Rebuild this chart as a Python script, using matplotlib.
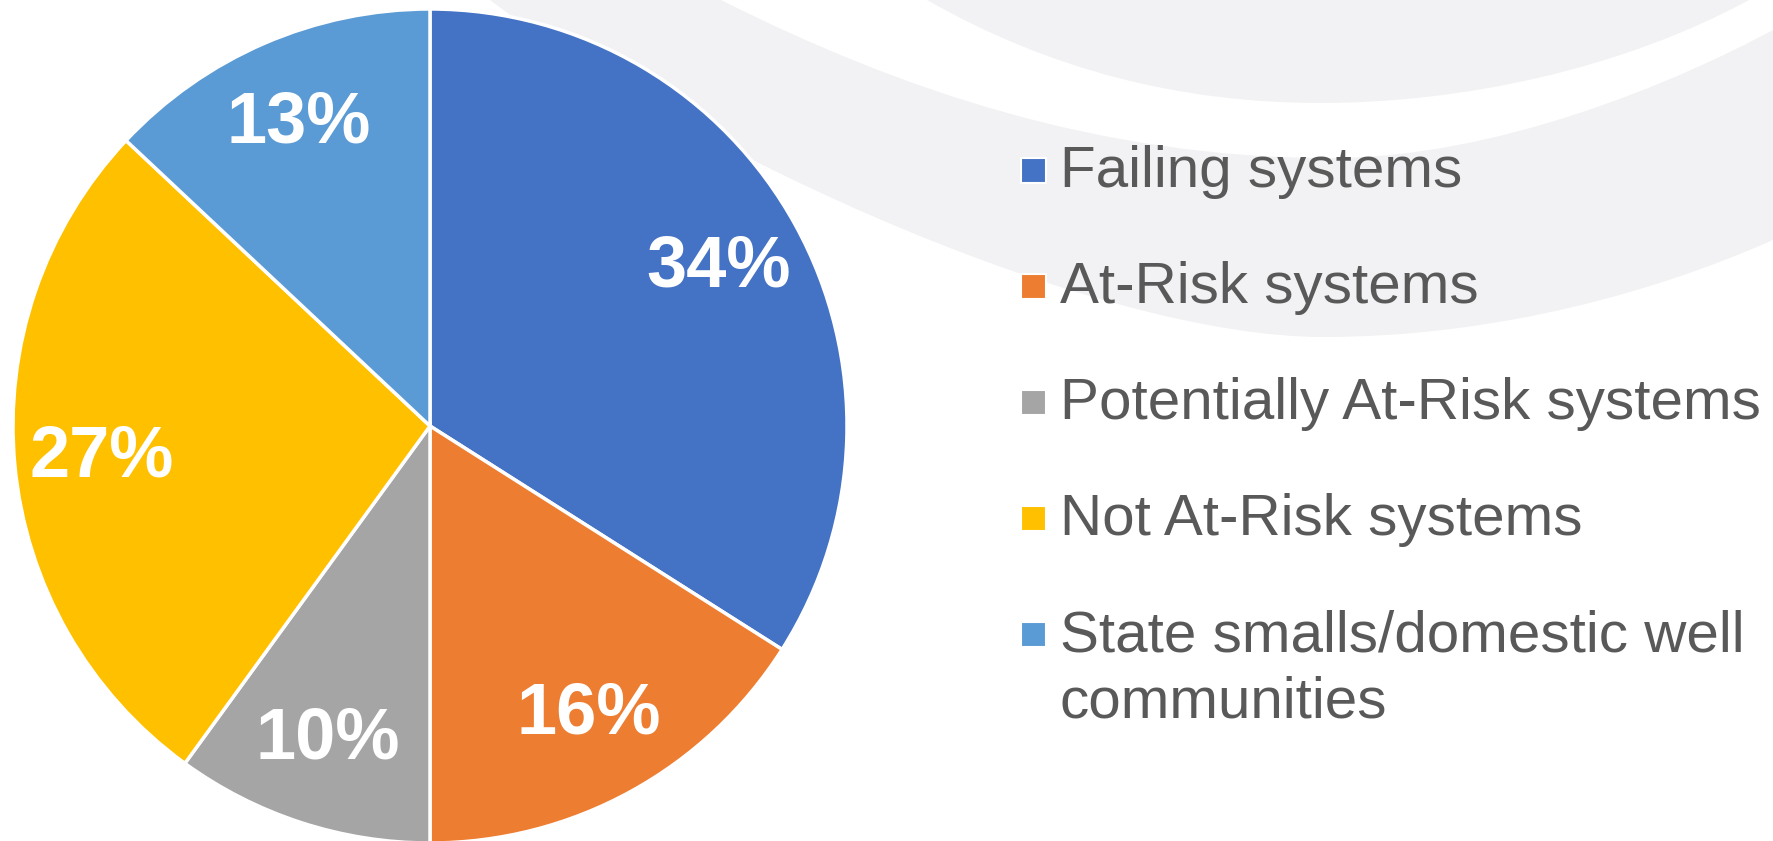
"""Pie chart of water system risk categories, with decorative background swooshes."""

import matplotlib
matplotlib.use("Agg")
import matplotlib.pyplot as plt
from matplotlib.path import Path
from matplotlib.patches import PathPatch, Rectangle

plt.rcParams["font.family"] = ["Liberation Sans", "DejaVu Sans"]

# data
categories = [
    "Failing systems",
    "At-Risk systems",
    "Potentially At-Risk systems",
    "Not At-Risk systems",
    "State smalls/domestic well\ncommunities",
]
shares = [34, 16, 10, 27, 13]
colors = ["#4472C4", "#ED7D31", "#A5A5A5", "#FFC000", "#5B9BD5"]

W, H = 1773, 841
BG_GRAY = "#F2F2F4"
TEXT = "#595959"

fig = plt.figure(figsize=(W / 100, H / 100), dpi=100)
fig.patch.set_facecolor("white")

# background axes in pixel coordinates (y grows downward)
bg = fig.add_axes([0, 0, 1, 1], zorder=0)
bg.set_xlim(0, W)
bg.set_ylim(H, 0)
bg.axis("off")

M, C4, L, CL = Path.MOVETO, Path.CURVE4, Path.LINETO, Path.CLOSEPOLY


def swoosh(verts, codes, color):
    bg.add_patch(PathPatch(Path(verts, codes), facecolor=color,
                           edgecolor="none", zorder=0))


# outer gray band
swoosh([(490, 0), (700, 160), (1100, 337), (1323, 337),
        (1500, 337), (1660, 290), (1773, 240), (1773, 0), (490, 0)],
       [M, C4, C4, C4, C4, C4, C4, L, CL], BG_GRAY)
# white ring inside it
swoosh([(721, 0), (900, 90), (1100, 158), (1330, 158),
        (1500, 158), (1680, 80), (1773, 30), (1773, 0), (721, 0)],
       [M, C4, C4, C4, C4, C4, C4, L, CL], "white")
# inner gray blob
swoosh([(927, 0), (1050, 70), (1180, 103), (1321, 103),
        (1460, 103), (1620, 70), (1749, 0), (927, 0)],
       [M, C4, C4, C4, C4, C4, C4, CL], BG_GRAY)

# pie: centre (430, 426) px, radius 417 px
cx, cy, r = 430, 426, 417
ax = fig.add_axes([(cx - r) / W, (H - cy - r) / H, 2 * r / W, 2 * r / H], zorder=1)
wedges, _, autotexts = ax.pie(
    shares, colors=colors, startangle=90, counterclock=False,
    autopct="%.0f%%", pctdistance=0.79,
    wedgeprops={"edgecolor": "white", "linewidth": 2.5},
    textprops={"color": "white", "fontsize": 52, "fontweight": "bold"},
)
ax.set_xlim(-1, 1)
ax.set_ylim(-1, 1)
ax.set_aspect("equal")

# legend drawn by hand so row spacing matches
base0, step, line2 = 187, 116, 67
for i, (lab, col) in enumerate(zip(categories, colors)):
    base = base0 + i * step
    bg.add_patch(Rectangle((1021, base - 29), 25, 25, facecolor=col,
                           edgecolor="white", linewidth=1.5, zorder=2))
    lines = lab.split("\n")
    for j, ln in enumerate(lines):
        bg.text(1060, base + j * line2, ln, fontsize=42, color=TEXT,
                ha="left", va="baseline", zorder=3)

fig.savefig("out.png", dpi=100, facecolor="white")
